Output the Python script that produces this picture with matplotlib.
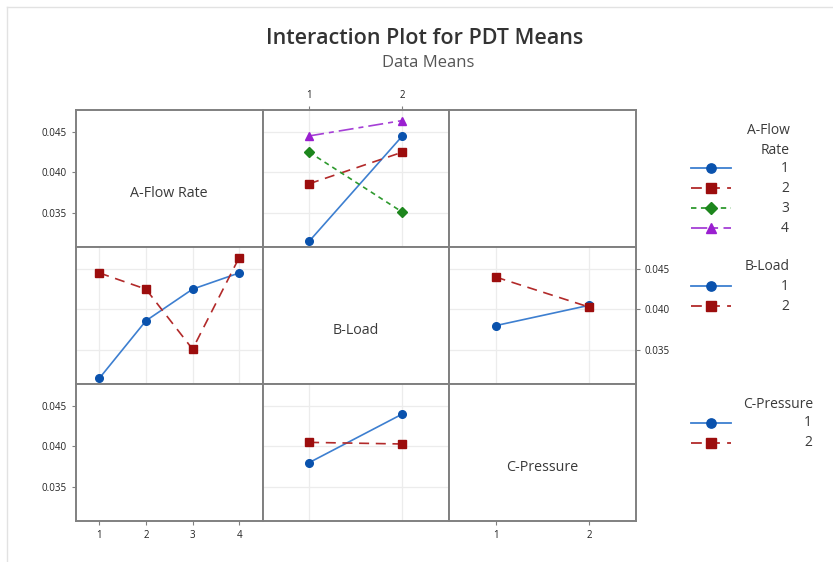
import matplotlib
matplotlib.use("Agg")
import matplotlib.pyplot as plt
from matplotlib.lines import Line2D

plt.rcParams['font.family'] = ['Open Sans', 'DejaVu Sans']

# ---------------- data ----------------
flow_levels = [1, 2, 3, 4]
load_levels = [1, 2]
pressure_levels = [1, 2]

# A-Flow Rate x B-Load means (per A level, values at B = 1, 2)
flow1_by_load = [0.0315, 0.0445]
flow2_by_load = [0.0386, 0.0425]
flow3_by_load = [0.0425, 0.0351]
flow4_by_load = [0.0445, 0.0464]

# B-Load x C-Pressure means (per B level, values at C = 1, 2)
load1_by_pressure = [0.0380, 0.0405]
load2_by_pressure = [0.0440, 0.0403]

y_ticks = [0.035, 0.040, 0.045]
y_tick_labels = ["0.035", "0.040", "0.045"]

factor_names = ["A-Flow Rate", "B-Load", "C-Pressure"]
legend_titles = ["A-Flow\nRate", "B-Load", "C-Pressure"]

# ---------------- styles ----------------
BLUE_L, BLUE_M = "#3d7fd0", "#0a52ad"
RED_L, RED_M = "#b22a2a", "#9c0d0d"
GRN_L, GRN_M = "#2e9a2e", "#1d861d"
PUR_L, PUR_M = "#a53fd6", "#9a1fd0"
styles = {
    1: dict(color=BLUE_L, mfc=BLUE_M, mec=BLUE_M, ls="-", marker="o", ms=5.5),
    2: dict(color=RED_L, mfc=RED_M, mec=RED_M, ls=(0, (6, 4)), marker="s", ms=5.5),
    3: dict(color=GRN_L, mfc=GRN_M, mec=GRN_M, ls=(0, (3, 2.5)), marker="D", ms=5.0),
    4: dict(color=PUR_L, mfc=PUR_M, mec=PUR_M, ls=(0, (9, 3, 3, 3)), marker="^", ms=6.0),
}

W, H = 833, 562
fig = plt.figure(figsize=(W / 100, H / 100), dpi=100)

left_px, top_px = 76, 110
col_w, row_h = 186.5, 137.0
ylim = (0.0308, 0.0477)
FRAME = "#808080"
GRID = "#ececec"
TXT = "#3a3a3a"


def make_ax(r, c):
    x0 = (left_px + c * col_w) / W
    y0 = 1 - (top_px + (r + 1) * row_h) / H
    ax = fig.add_axes([x0, y0, col_w / W, row_h / H])
    for s in ax.spines.values():
        s.set_color(FRAME)
        s.set_linewidth(1.4)
    ax.set_xticks([])
    ax.set_yticks([])
    ax.set_ylim(*ylim)
    return ax


axes = [[make_ax(r, c) for c in range(3)] for r in range(3)]
xlims = [(0.5, 4.5), (0.5, 2.5), (0.5, 2.5)]
xlevels = [flow_levels, load_levels, pressure_levels]
for r in range(3):
    for c in range(3):
        axes[r][c].set_xlim(*xlims[c])


def setup_data_ax(ax, c):
    ax.set_xticks(xlevels[c])
    ax.set_yticks(y_ticks)
    ax.grid(True, color=GRID, lw=0.9)
    ax.set_axisbelow(True)
    ax.tick_params(length=0, labelbottom=False, labelleft=False)


# diagonal labels
for i in range(3):
    axes[i][i].text(0.5, 0.39, factor_names[i], transform=axes[i][i].transAxes,
                    ha="center", va="center", fontsize=10.3, color=TXT)

tick_kw = dict(labelsize=7, labelcolor="#222222", length=3, width=0.8, color=FRAME)

# top-middle: x = B-Load, traces = A-Flow Rate
ax = axes[0][1]
setup_data_ax(ax, 1)
for lvl, vals in zip(flow_levels, [flow1_by_load, flow2_by_load, flow3_by_load, flow4_by_load]):
    ax.plot(load_levels, vals, lw=1.2, **styles[lvl])
ax.xaxis.set_ticks_position("top")
ax.tick_params(axis="x", top=True, labeltop=True, **tick_kw)

# middle-left: x = A-Flow Rate, traces = B-Load
ax = axes[1][0]
setup_data_ax(ax, 0)
load1_by_flow = [v[0] for v in [flow1_by_load, flow2_by_load, flow3_by_load, flow4_by_load]]
load2_by_flow = [v[1] for v in [flow1_by_load, flow2_by_load, flow3_by_load, flow4_by_load]]
ax.plot(flow_levels, load1_by_flow, lw=1.2, **styles[1])
ax.plot(flow_levels, load2_by_flow, lw=1.2, **styles[2])

# middle-right: x = C-Pressure, traces = B-Load
ax = axes[1][2]
setup_data_ax(ax, 2)
ax.plot(pressure_levels, load1_by_pressure, lw=1.2, **styles[1])
ax.plot(pressure_levels, load2_by_pressure, lw=1.2, **styles[2])
ax.yaxis.set_ticks_position("right")
ax.set_yticklabels(y_tick_labels)
ax.tick_params(axis="y", right=True, labelright=True, **tick_kw)

# bottom-middle: x = B-Load, traces = C-Pressure
ax = axes[2][1]
setup_data_ax(ax, 1)
pressure1_by_load = [load1_by_pressure[0], load2_by_pressure[0]]
pressure2_by_load = [load1_by_pressure[1], load2_by_pressure[1]]
ax.plot(load_levels, pressure1_by_load, lw=1.2, **styles[1])
ax.plot(load_levels, pressure2_by_load, lw=1.2, **styles[2])

# tick labels on outer axes
ax = axes[0][0]
ax.set_yticks(y_ticks)
ax.set_yticklabels(y_tick_labels)
ax.tick_params(axis="y", left=True, labelleft=True, **tick_kw)

ax = axes[2][0]
ax.set_yticks(y_ticks)
ax.set_yticklabels(y_tick_labels)
ax.tick_params(axis="y", left=True, labelleft=True, **tick_kw)
ax.set_xticks(flow_levels)
ax.tick_params(axis="x", bottom=True, labelbottom=True, **tick_kw)

ax = axes[2][2]
ax.set_xticks(pressure_levels)
ax.tick_params(axis="x", bottom=True, labelbottom=True, **tick_kw)

# ---------------- titles ----------------
fig.text(425 / W, 1 - 38 / H, "Interaction Plot for PDT Means", ha="center", va="center",
         fontsize=15.5, fontweight="semibold", color="#333333")
fig.text(428 / W, 1 - 63 / H, "Data Means", ha="center", va="center",
         fontsize=12, color="#555555")

# ---------------- legends (drawn in pixel overlay) ----------------
lax = fig.add_axes([0, 0, 1, 1], zorder=-1)
lax.set_xlim(0, W)
lax.set_ylim(H, 0)
lax.axis("off")
# faint outer frame lines
lax.plot([7, 7], [7, H], color="#e2e2e2", lw=1)
lax.plot([7, W], [7, 7], color="#e2e2e2", lw=1)

lax2 = fig.add_axes([0, 0, 1, 1])
lax2.set_xlim(0, W)
lax2.set_ylim(H, 0)
lax2.axis("off")
lax2.patch.set_alpha(0)

legend_specs = [
    (legend_titles[0], [131, 151], flow_levels, [168, 188, 208, 228], 790),
    (legend_titles[1], [267], load_levels, [286, 306], 790),
    (legend_titles[2], [404], pressure_levels, [423, 443], 813),
]
for title, tys, levels, ys, xr in legend_specs:
    for line, ty in zip(title.split("\n"), tys):
        lax2.text(xr, ty, line, ha="right", va="center", fontsize=10, color=TXT)
    for lvl, y in zip(levels, ys):
        st = styles[lvl]
        lax2.add_line(Line2D([691, 731], [y, y], color=st["color"], ls=st["ls"], lw=1.3))
        lax2.add_line(Line2D([711], [y], marker=st["marker"], ms=st["ms"] + 1.2,
                             mfc=st["mfc"], mec=st["mec"], ls="none"))
        lax2.text(xr - 1, y, str(lvl), ha="right", va="center", fontsize=10, color=TXT)

fig.savefig("out.png", dpi=100)
